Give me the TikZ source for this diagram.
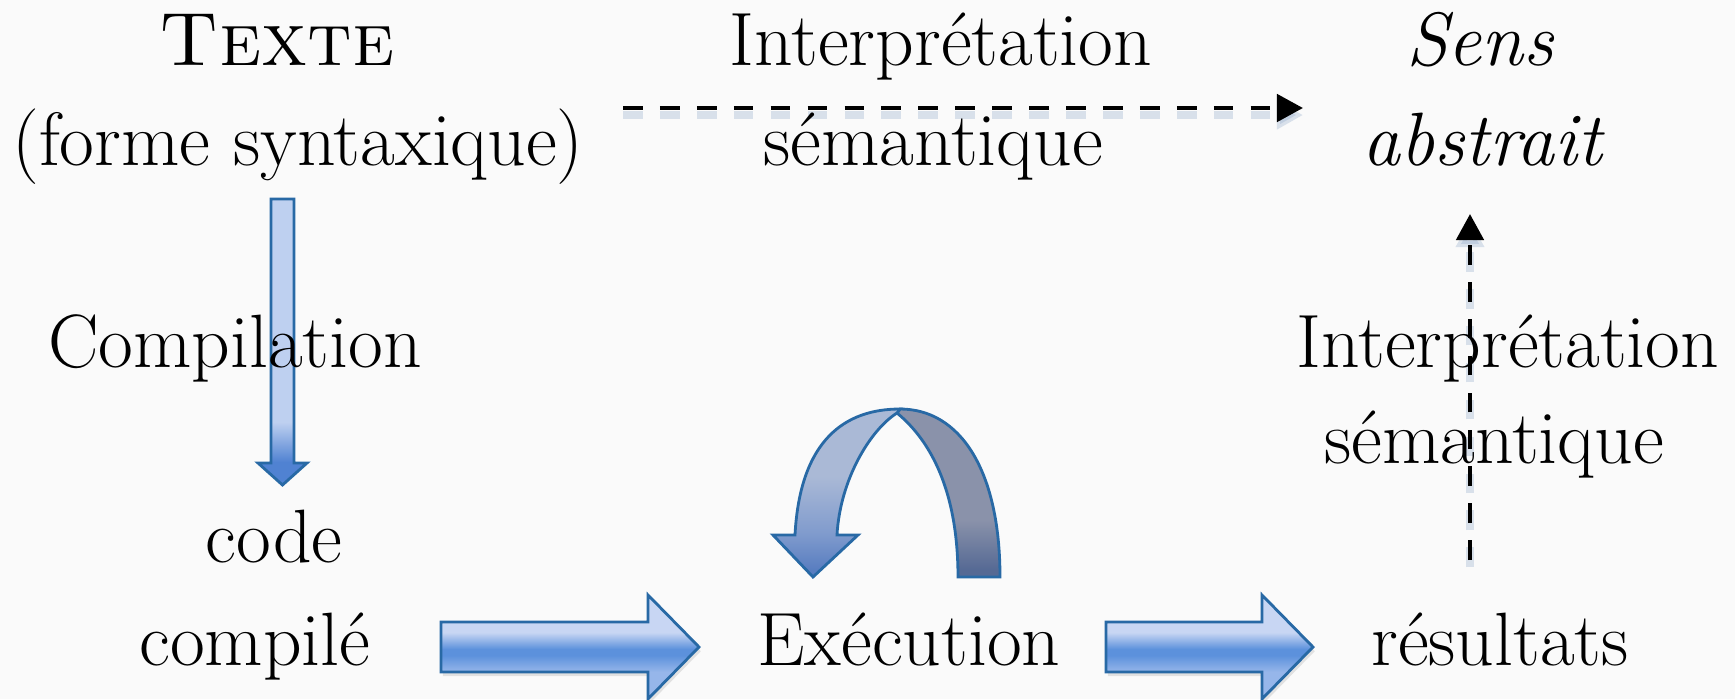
\documentclass[tikz,border=0pt]{standalone}
\usepackage{fontspec}
\usetikzlibrary{arrows.meta,calc,shadows}
\definecolor{bgcol}{RGB}{250,250,250}
\definecolor{arrowline}{RGB}{40,105,165}
\definecolor{thinlight}{RGB}{190,208,240}
\definecolor{thindark}{RGB}{80,130,210}
\definecolor{blocklight}{RGB}{200,214,243}
\definecolor{blockmid}{RGB}{150,182,234}
\definecolor{blockdark}{RGB}{92,145,220}
\definecolor{curvelight}{RGB}{170,185,214}
\definecolor{curvemid}{RGB}{128,155,205}
\definecolor{curvedeep}{RGB}{88,125,192}
\definecolor{curvegray}{RGB}{138,146,170}
\definecolor{curvegraydark}{RGB}{85,105,148}
\definecolor{dashshadow}{RGB}{140,165,200}
\newcommand\diagfont{\fontsize{21.5}{26}\selectfont}
\pgfdeclareverticalshading{thinshade}{100bp}{color(0bp)=(thindark); color(29bp)=(thindark); color(36bp)=(thinlight); color(100bp)=(thinlight)}
\pgfdeclareverticalshading{blockshade}{100bp}{color(0bp)=(blockmid); color(38bp)=(blockmid); color(46bp)=(blockdark); color(49bp)=(blockdark); color(57bp)=(blocklight); color(100bp)=(blocklight)}
\pgfdeclareverticalshading{frontshade}{100bp}{color(0bp)=(curvedeep); color(27bp)=(curvedeep); color(38bp)=(curvemid); color(55bp)=(curvelight); color(100bp)=(curvelight)}
\pgfdeclareverticalshading{backshade}{100bp}{color(0bp)=(curvegraydark); color(27bp)=(curvegraydark); color(42bp)=(curvegray); color(100bp)=(curvegray)}
\tikzset{
    txt/.style={anchor=base,inner sep=0pt,font=\diagfont},
    itxt/.style={txt,font=\diagfont\itshape},
    dasharrow/.style={
        line width=1.3pt,dash pattern=on 5.6pt off 4.9pt,
        -{Triangle[length=7.4pt,width=7.7pt]},
        preaction={draw=dashshadow,opacity=.3,line width=2.4pt,dash pattern=on 5.6pt off 4.9pt,
            transform canvas={yshift=-2pt}}
    },
    thinarrow/.style={draw=arrowline,line width=0.8pt,shading=thinshade},
    blockarrow/.style={draw=arrowline,line width=0.8pt,shading=blockshade,
        drop shadow={opacity=.2,shadow xshift=0.5pt,shadow yshift=-1.2pt}},
    curvefront/.style={draw=arrowline,line width=0.8pt,shading=frontshade},
    curveback/.style={draw=arrowline,line width=0.8pt,shading=backshade},
}
\newcommand\blockarrow[2]{%
    \path[blockarrow] ($(#1)+(0,-25)$) -- ($(#2)+(-51,-25)$) -- ($(#2)+(-51,-52)$) -- (#2)
        -- ($(#2)+(-51,52)$) -- ($(#2)+(-51,25)$) -- ($(#1)+(0,25)$) -- cycle;}
\begin{document}
\begin{tikzpicture}[x=0.01cm,y=-0.01cm]
\useasboundingbox[fill=bgcol] (0,0) rectangle (1735,699);

% compilation arrow
\coordinate (cs) at (282.5,199);
\coordinate (ce) at (282.5,485);
\path[thinarrow] ($(cs)+(-11.5,0)$) -- ($(cs)+(11.5,0)$) -- ($(ce)+(11.5,-22)$) -- ($(ce)+(24.5,-22)$)
    -- (ce) -- ($(ce)+(-24.5,-22)$) -- ($(ce)+(-11.5,-22)$) -- cycle;

% block arrows
\coordinate (b1s) at (441,647);
\coordinate (b1e) at (699,647);
\coordinate (b2s) at (1106,647);
\coordinate (b2e) at (1313,647);
\blockarrow{b1s}{b1e}
\blockarrow{b2s}{b2e}

% loop over execution
\path[curveback] (900,409) .. controls (960,409) and (1000,470) .. (1000,577) -- (958,577)
    .. controls (958,490) and (930,440) .. (897,413) -- cycle;
\path[curvefront] (773,535) -- (795,535) .. controls (800,440) and (845,409) .. (900,409) -- (897,413)
    .. controls (870,430) and (840,480) .. (837,535) -- (858,535) -- (813,577) -- cycle;

% semantic interpretations
\coordinate (hs) at (623,108);
\coordinate (he) at (1303,108);
\draw[dasharrow] (hs) -- (he);
\coordinate (vs) at (1470,560);
\coordinate (ve) at (1470,214);
\draw[dasharrow] (vs) -- (ve);

% top row
\node[txt] (texte) at (277,65) {\textsc{Texte}};
\node[txt] (forme) at (298,165) {(forme syntaxique)};
\node[txt] (interp) at (941,65) {Interprétation};
\node[txt] (sem) at (933,165) {sémantique};
\node[itxt] (sens) at (1480,65) {Sens};
\node[itxt] (abstr) at (1482,165) {abstrait};
% middle
\node[txt] (compil) at (235,367) {Compilation};
\node[txt] (interpb) at (1508,367) {Interprétation};
\node[txt] (semb) at (1494,463) {sémantique};
% bottom row
\node[txt] (code) at (274,562) {code};
\node[txt] (compile) at (255,665) {compilé};
\node[txt] (exec) at (909,665) {Exécution};
\node[txt] (result) at (1500,665) {résultats};
\end{tikzpicture}
\end{document}
